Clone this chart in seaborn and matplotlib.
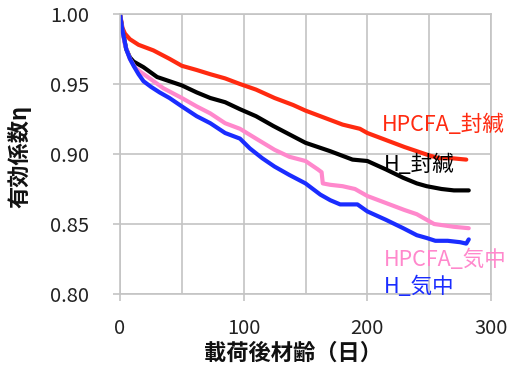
import numpy as np
import pandas as pd
import matplotlib
matplotlib.use("Agg")
import matplotlib.pyplot as plt
import seaborn as sns
from matplotlib.ticker import MultipleLocator

# ---- data ----
series_names = ["HPCFA_封緘", "H_封緘", "HPCFA_気中", "H_気中"]

red_days = [0, 2, 4, 8, 15, 27, 40, 50, 62, 73, 85, 97, 110, 125, 140, 150,
            165, 180, 194, 200, 215, 230, 240, 250, 258, 268, 280]
red_vals = [1.000, 0.990, 0.986, 0.982, 0.978, 0.974, 0.968, 0.963, 0.960, 0.957,
            0.954, 0.950, 0.946, 0.940, 0.935, 0.931, 0.926, 0.921, 0.918, 0.915,
            0.910, 0.905, 0.902, 0.899, 0.897, 0.897, 0.896]

black_days = [0, 2, 3, 5, 8, 11, 19, 30, 40, 50, 62, 73, 85, 97, 110, 124, 137,
              150, 160, 170, 188, 200, 215, 229, 240, 248, 260, 270, 282]
black_vals = [1.000, 0.988, 0.984, 0.975, 0.969, 0.966, 0.962, 0.955, 0.952, 0.949,
              0.944, 0.940, 0.937, 0.932, 0.927, 0.920, 0.914, 0.908, 0.905, 0.902,
              0.896, 0.895, 0.889, 0.883, 0.879, 0.877, 0.875, 0.874, 0.874]

pink_days = [0, 2, 4, 8, 12, 16, 24, 35, 50, 62, 73, 85, 97, 110, 125, 137, 150,
             160, 163, 164, 170, 180, 190, 200, 215, 230, 240, 248, 254, 262, 270, 282]
pink_vals = [1.000, 0.988, 0.978, 0.968, 0.962, 0.959, 0.954, 0.947, 0.940, 0.934,
             0.929, 0.922, 0.918, 0.911, 0.903, 0.898, 0.895, 0.889, 0.887, 0.879,
             0.878, 0.877, 0.875, 0.870, 0.865, 0.860, 0.857, 0.853, 0.850, 0.849,
             0.848, 0.847]

blue_days = [0, 2, 5, 8, 11, 15, 19, 25, 32, 40, 50, 62, 73, 85, 97, 105, 115, 125,
             137, 150, 162, 170, 178, 186, 192, 200, 215, 229, 240, 248, 255, 265,
             275, 280, 282]
blue_vals = [1.000, 0.988, 0.975, 0.968, 0.963, 0.957, 0.952, 0.948, 0.944, 0.940,
             0.934, 0.927, 0.922, 0.915, 0.911, 0.904, 0.897, 0.891, 0.885, 0.879,
             0.871, 0.867, 0.864, 0.864, 0.864, 0.859, 0.853, 0.847, 0.842, 0.840,
             0.838, 0.838, 0.837, 0.836, 0.839]

x_ticks = [0, 100, 200, 300]
y_ticks = [0.80, 0.85, 0.90, 0.95, 1.00]
x_label = "載荷後材齢（日）"
y_label = "有効係数η"

colors = {"HPCFA_封緘": "#ff2a10", "H_封緘": "#000000",
          "HPCFA_気中": "#ff88cc", "H_気中": "#1a2cff"}

frames = []
for name, d, v in [("HPCFA_封緘", red_days, red_vals), ("H_封緘", black_days, black_vals),
                   ("HPCFA_気中", pink_days, pink_vals), ("H_気中", blue_days, blue_vals)]:
    frames.append(pd.DataFrame({"day": d, "eta": v, "series": name}))
df = pd.concat(frames, ignore_index=True)

# ---- styling ----
sns.set_theme(style="white")
plt.rcParams["font.family"] = ["Noto Sans CJK JP", "DejaVu Sans"]

fig = plt.figure(figsize=(5.12, 3.74), dpi=100)
ax = fig.add_axes([120 / 512, 1 - 294 / 374, 371 / 512, 280 / 374])

grid_c = "#c4c4c4"
ax.set_xlim(0, 300)
ax.set_ylim(0.80, 1.00)
ax.xaxis.set_major_locator(MultipleLocator(100))
ax.xaxis.set_minor_locator(MultipleLocator(50))
ax.set_yticks(y_ticks)
ax.set_xticks(x_ticks)
ax.grid(True, which="both", axis="x", color=grid_c, linewidth=1.2)
ax.grid(True, which="major", axis="y", color=grid_c, linewidth=1.2)
ax.set_axisbelow(True)
for s in ax.spines.values():
    s.set_color(grid_c)
    s.set_linewidth(1.2)

sns.lineplot(data=df, x="day", y="eta", hue="series", hue_order=series_names,
             palette=colors, linewidth=3.0, legend=False, ax=ax, sort=False,
             estimator=None)

ax.tick_params(axis="both", which="major", length=5, width=1.2, color=grid_c,
               labelsize=14.5, labelcolor="#222222", direction="out",
               bottom=True, left=True)
ax.tick_params(axis="y", which="major", pad=17)
ax.tick_params(axis="x", which="major", pad=12.5)
ax.tick_params(axis="x", which="minor", length=0)
ax.set_yticklabels([f"{t:.2f}" for t in y_ticks])
ax.set_xticklabels([str(t) for t in x_ticks])

ax.set_xlabel(x_label, fontsize=16, fontweight="bold", color="#111111")
ax.set_ylabel(y_label, fontsize=16, fontweight="bold", color="#111111")
ax.xaxis.set_label_coords(0.466, -0.17)
ax.xaxis.label.set_va("top")
ax.xaxis.label.set_ha("center")
ax.yaxis.set_label_coords(-0.27, 0.49)
ax.yaxis.label.set_va("center")
ax.yaxis.label.set_ha("center")

lab_fs = 15.5
ax.text(212, 0.9207, "HPCFA_封緘", color=colors["HPCFA_封緘"], fontsize=lab_fs,
        ha="left", va="center")
ax.text(213, 0.892, "H_封緘", color=colors["H_封緘"], fontsize=lab_fs,
        ha="left", va="center")
ax.text(213, 0.824, "HPCFA_気中", color=colors["HPCFA_気中"], fontsize=lab_fs,
        ha="left", va="center", clip_on=False)
ax.text(213, 0.805, "H_気中", color=colors["H_気中"], fontsize=lab_fs,
        ha="left", va="center", clip_on=False)

fig.savefig("out.png", dpi=100)
